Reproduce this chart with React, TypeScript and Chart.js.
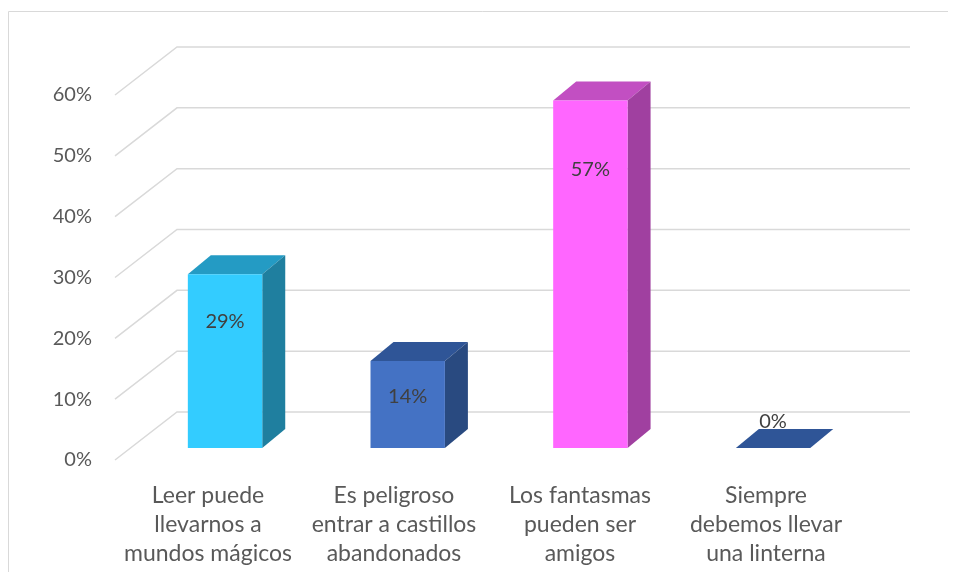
import React, { useEffect, useRef } from "react";
import { Chart, registerables } from "chart.js";

Chart.register(...registerables);

// ---- data ----
const categories: string[][] = [
  ["Leer puede", "llevarnos a", "mundos mágicos"],
  ["Es peligroso", "entrar a castillos", "abandonados"],
  ["Los fantasmas", "pueden ser", "amigos"],
  ["Siempre", "debemos llevar", "una linterna"],
];
const values: number[] = [0.2857, 0.1429, 0.5714, 0];
const yMin = 0;
const yMax = 0.6;
const yStep = 0.1;

// ---- styles ----
const frontColors = ["#33CCFF", "#4472C4", "#FF66FF", "#4472C4"];
const topColors = ["#249BC4", "#2F5597", "#C24FC2", "#2F5597"];
const sideColors = ["#1F7F9F", "#294A80", "#A040A0", "#294A80"];
const GRID_COLOR = "#D9D9D9";
const TICK_COLOR = "#595959";
const LABEL_COLOR = "#404040";
const FONT = "Lato";

// 3D projection constants (pixels)
const WALL_DX = 62;
const WALL_DY = 48;
const GRID_RIGHT_EXTRA = 51;
const BAR_FRONT_DY = 12;
const BAR_DX = 18.7;
const BAR_SHRINK = 0.0179;
const BAR_DEPTH_X = 23;
const BAR_DEPTH_Y = 19;

const CANVAS_W = 948;
const CANVAS_H = 564;
const PLOT_RIGHT = 851;

const fmtPct = (v: number) => Math.round(v * 100) + "%";

const poly = (ctx: CanvasRenderingContext2D, pts: number[][], color: string) => {
  ctx.beginPath();
  ctx.moveTo(pts[0][0], pts[0][1]);
  for (let i = 1; i < pts.length; i++) ctx.lineTo(pts[i][0], pts[i][1]);
  ctx.closePath();
  ctx.fillStyle = color;
  ctx.fill();
};

const pseudo3d = {
  id: "pseudo3d",
  beforeDatasetsDraw(chart: any) {
    const { ctx, chartArea, scales } = chart;
    const y = scales.y;
    ctx.save();
    // outer frame
    ctx.strokeStyle = "#D9D9D9";
    ctx.lineWidth = 1;
    ctx.beginPath();
    ctx.moveTo(0.5, chart.height);
    ctx.lineTo(0.5, 3.5);
    ctx.lineTo(chart.width, 3.5);
    ctx.stroke();
    // grid: side wall diagonals + back wall lines
    ctx.strokeStyle = GRID_COLOR;
    ctx.lineWidth = 1.5;
    y.ticks.forEach((t: any) => {
      const py = y.getPixelForValue(t.value);
      ctx.beginPath();
      ctx.moveTo(chartArea.left, py);
      ctx.lineTo(chartArea.left + WALL_DX, py - WALL_DY);
      ctx.lineTo(chartArea.right + GRID_RIGHT_EXTRA, py - WALL_DY);
      ctx.stroke();
    });
    ctx.restore();
  },
  afterDatasetsDraw(chart: any) {
    const { ctx, chartArea, scales } = chart;
    const y = scales.y;
    const meta = chart.getDatasetMeta(0);
    ctx.save();
    meta.data.forEach((bar: any, i: number) => {
      const { x, width } = bar.getProps(["x", "width"], true);
      const v = values[i];
      const cx = x + BAR_DX - (x - chartArea.left) * BAR_SHRINK;
      const L = cx - width / 2;
      const R = cx + width / 2;
      const T = y.getPixelForValue(v) - BAR_FRONT_DY;
      const B = y.getPixelForValue(0) - BAR_FRONT_DY;
      // top face
      poly(ctx, [[L, T], [L + BAR_DEPTH_X, T - BAR_DEPTH_Y], [R + BAR_DEPTH_X, T - BAR_DEPTH_Y], [R, T]], topColors[i]);
      if (B - T > 0.5) {
        // side face
        poly(ctx, [[R, T], [R + BAR_DEPTH_X, T - BAR_DEPTH_Y], [R + BAR_DEPTH_X, B - BAR_DEPTH_Y], [R, B]], sideColors[i]);
        // front face
        poly(ctx, [[L, T], [R, T], [R, B], [L, B]], frontColors[i]);
      }
      // data label
      ctx.font = `20px ${FONT}`;
      ctx.fillStyle = LABEL_COLOR;
      ctx.textAlign = "center";
      ctx.textBaseline = "middle";
      const ly = v > 0 ? y.getPixelForValue(v * 0.871) + 12.7 : B - 26;
      ctx.fillText(fmtPct(v), cx, ly);
    });
    ctx.restore();
  },
};

export default function App() {
  const ref = useRef<HTMLCanvasElement>(null);
  useEffect(() => {
    if (!ref.current) return;
    const chart = new Chart(ref.current, {
      type: "bar",
      data: {
        labels: categories as any,
        datasets: [
          {
            data: values,
            backgroundColor: "rgba(0,0,0,0)",
            borderWidth: 0,
            barPercentage: 0.4,
            categoryPercentage: 1,
          },
        ],
      },
      options: {
        responsive: false,
        animation: false,
        devicePixelRatio: 1,
        layout: { padding: { top: 87, right: CANVAS_W - PLOT_RIGHT, left: 0, bottom: 0 } },
        plugins: { legend: { display: false }, tooltip: { enabled: false } },
        scales: {
          x: {
            type: "category",
            grid: { display: false, drawTicks: false },
            border: { display: false },
            ticks: {
              autoSkip: false,
              maxRotation: 0,
              minRotation: 0,
              padding: 21,
              color: TICK_COLOR,
              font: { family: FONT, size: 23, lineHeight: 29 / 23 },
            },
            afterFit: (s: any) => {
              s.height = CANVAS_H - 452;
            },
          },
          y: {
            min: yMin,
            max: yMax,
            grid: { display: false, drawTicks: false },
            border: { display: false },
            ticks: {
              stepSize: yStep,
              padding: 23,
              color: TICK_COLOR,
              font: { family: FONT, size: 20 },
              callback: (v: any) => fmtPct(Number(v)),
            },
            afterFit: (s: any) => {
              s.width = 107;
            },
          },
        },
      },
      plugins: [pseudo3d],
    });
    return () => chart.destroy();
  }, []);
  return (
    <div style={{ position: "relative", width: CANVAS_W, height: CANVAS_H }}>
      <canvas ref={ref} width={CANVAS_W} height={CANVAS_H} style={{ display: "block" }} />
    </div>
  );
}
